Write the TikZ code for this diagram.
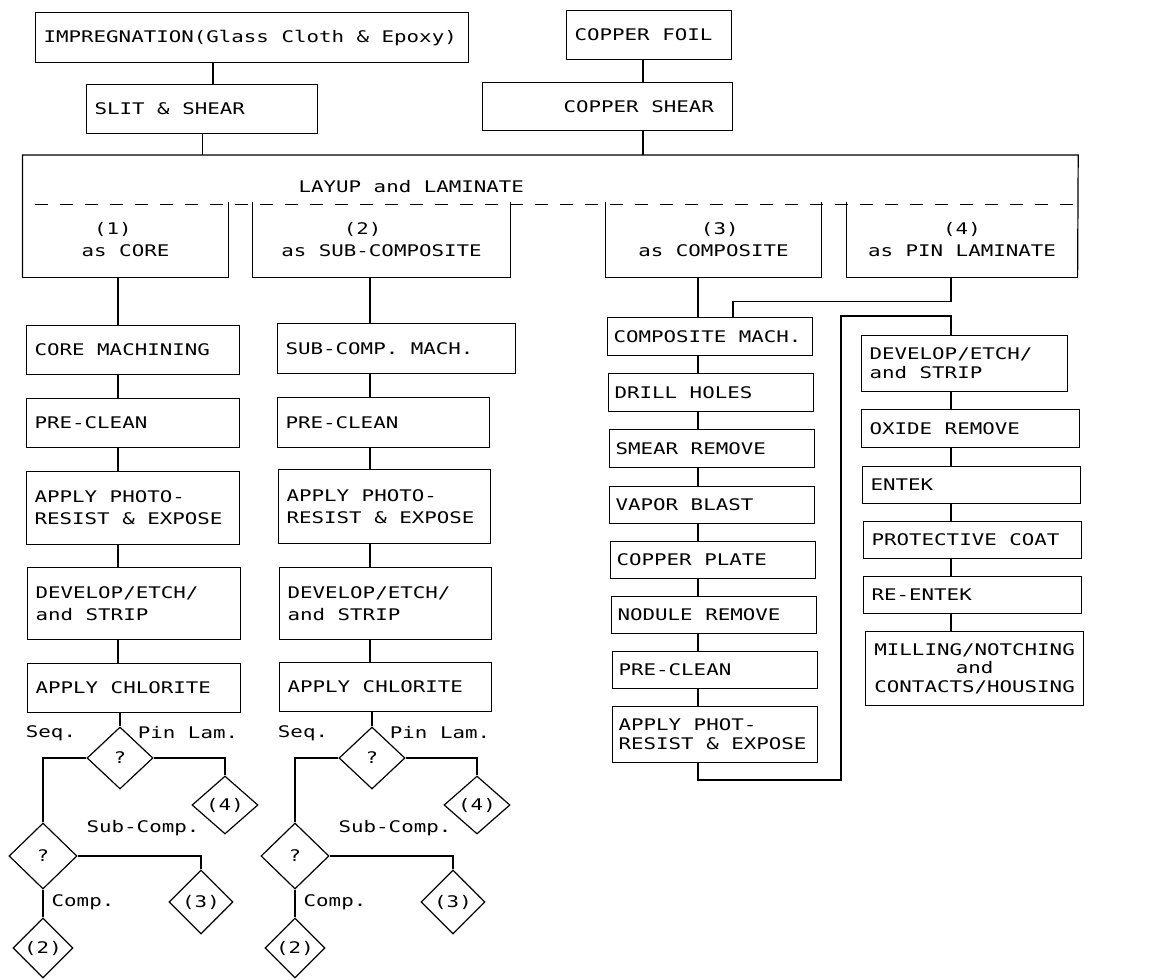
\documentclass[tikz,border=0pt]{standalone}
\usepackage{fontspec}
\newfontfamily\plotter[FakeStretch=1.3,WordSpace={1,0,0}]{DejaVu Sans Mono}
\usetikzlibrary{shapes.geometric}

\begin{document}
\begin{tikzpicture}[x=1pt,y=-1pt,line width=1.2pt,
    every node/.style={execute at begin node={\spaceskip=0pt\xspaceskip=0pt\frenchspacing}},
    blk/.style={draw,anchor=north west,align=left,inner xsep=8pt,inner ysep=0pt,
                font=\plotter\fontsize{16}{22}\selectfont},
    wblk/.style={blk,text width=197pt,minimum height=49pt},
    nblk/.style={blk,inner xsep=6pt,text width=193pt,minimum height=37pt,
                 font=\plotter\fontsize{16}{19}\selectfont},
    pblk/.style={blk,text width=202pt,minimum height=37pt,
                 font=\plotter\fontsize{16}{19}\selectfont},
    sub/.style={minimum height=74pt,align=left,inner sep=0pt,
                font=\plotter\fontsize{16}{22}\selectfont},
    dec/.style={diamond,draw,inner sep=0pt,minimum width=66pt,minimum height=62pt,
                font=\plotter\fontsize{16}{16}\selectfont},
    lbl/.style={inner sep=0pt,font=\plotter\fontsize{16}{16}\selectfont}]

    \useasboundingbox (0,0) rectangle (1165,980);

    % raw material
    \node[blk,text width=417pt,minimum height=50pt] (imp) at (35,12) {IMPREGNATION(Glass Cloth \& Epoxy)};
    \node[blk,text width=215pt,minimum height=49pt] (slit) at (86,84) {SLIT \& SHEAR};
    \node[blk,text width=149pt,minimum height=49pt] (foil) at (566,10) {COPPER FOIL};
    \node[blk,text width=234pt,minimum height=48pt] (cshear) at (482,82) {\hspace*{73pt}COPPER SHEAR};

    % layup and laminate
    \node[anchor=north west,minimum height=48pt,inner xsep=275pt,inner ysep=0pt,text width=504pt,
          align=left,font=\plotter\fontsize{16}{22}\selectfont] (layup) at (23,155)
      {\raisebox{-13pt}[0pt][0pt]{LAYUP and LAMINATE}};
    \node[sub,minimum width=205pt] (as1) at (125.5,240) {\hphantom{0}(1)\\as CORE};
    \node[sub,minimum width=257pt] (as2) at (381.5,240) {\hphantom{00000}(2)\\as SUB-COMPOSITE};
    \node[sub,minimum width=215pt] (as3) at (713.5,240) {\hphantom{00000}(3)\\as COMPOSITE};
    \node[sub,minimum width=230pt] (as4) at (962,240) {\hphantom{000000}(4)\\as PIN LAMINATE};

    % core
    \node[wblk] (core) at (26,325) {CORE MACHINING};
    \node[wblk] (pre1) at (26,398) {PRE-CLEAN};
    \node[wblk,minimum height=73pt] (phot1) at (26,471) {APPLY PHOTO-\\RESIST \& EXPOSE};
    \node[wblk,minimum height=72pt] (dev1) at (27,567) {DEVELOP/ETCH/\\and STRIP};
    \node[wblk] (chl1) at (27,663) {APPLY CHLORITE};

    % sub-composite
    \node[wblk,text width=222pt,minimum height=50pt] (subm) at (277,323) {SUB-COMP. MACH.};
    \node[wblk,text width=196pt,minimum height=50pt] (pre2) at (277,397) {PRE-CLEAN};
    \node[wblk,text width=196pt,minimum height=74pt] (phot2) at (278,469) {APPLY PHOTO-\\RESIST \& EXPOSE};
    \node[wblk,text width=196pt,minimum height=72pt] (dev2) at (279,567) {DEVELOP/ETCH/\\and STRIP};
    \node[wblk,text width=196pt] (chl2) at (279,662) {APPLY CHLORITE};

    % composite
    \node[nblk,minimum height=38pt] (cmach) at (607,317) {COMPOSITE MACH.};
    \node[nblk,minimum height=38pt] (drill) at (608,373) {DRILL HOLES};
    \node[nblk,minimum height=38pt] (smear) at (609,429) {SMEAR REMOVE};
    \node[nblk] (vapor) at (609,486) {VAPOR BLAST};
    \node[nblk] (cplate) at (610,541) {COPPER PLATE};
    \node[nblk] (nodule) at (611,596) {NODULE REMOVE};
    \node[nblk] (pre3) at (612,651) {PRE-CLEAN};
    \node[nblk,minimum height=56pt] (phot3) at (612,706) {APPLY PHOT-\\RESIST \& EXPOSE};

    % pin laminate
    \node[pblk,text width=190pt,minimum height=56pt] (dev4) at (861,335) {DEVELOP/ETCH/\\and STRIP};
    \node[pblk,minimum height=38pt] (oxide) at (861,409) {OXIDE REMOVE};
    \node[pblk] (entek) at (862,466) {ENTEK};
    \node[pblk] (prot) at (863,521) {PROTECTIVE COAT};
    \node[pblk] (reent) at (863,576) {RE-ENTEK};
    \node[pblk,align=center,minimum height=74pt,font=\plotter\fontsize{16}{18.5}\selectfont] (mill) at (865,631)
      {MILLING/NOTCHING\\and\\CONTACTS/HOUSING};

    \coordinate (xg)  at (213,0);
    \coordinate (xcu) at (643,0);
    \coordinate (x1)  at (118,0);
    \coordinate (x2)  at (370,0);
    \coordinate (x3)  at (698,0);
    \coordinate (x4)  at (951,0);
    \coordinate (xm)  at (733,0);
    \coordinate (lpb) at (841,780);
    \coordinate (lpt) at (841,316);

    % frame of layup block
    \draw (as1.south west) |- (layup.north east) -- (as4.south east);
    \draw[dash pattern=on 13pt off 12pt,dash phase=13pt] (layup.south west) -- (layup.south east);
    \draw (as1.north east) |- (as1.south west);
    \foreach \k in {2,3} { \draw (as\k.north west) |- (as\k.south east) -- (as\k.north east); }
    \draw (as4.north west) |- (as4.south east);

    \draw (imp.south -| xg) -- (slit.north -| xg);
    \draw (slit.south) -- (slit.south |- layup.north);
    \draw (foil.south -| xcu) -- (cshear.north -| xcu);
    \draw (cshear.south -| xcu) -- (layup.north -| xcu);

    \foreach \a/\b in {as1/core,core/pre1,pre1/phot1,phot1/dev1,dev1/chl1}
      { \draw (\a.south -| x1) -- (\b.north -| x1); }
    \foreach \a/\b in {as2/subm,subm/pre2,pre2/phot2,phot2/dev2,dev2/chl2}
      { \draw (\a.south -| x2) -- (\b.north -| x2); }
    \foreach \a/\b in {as3/cmach,cmach/drill,drill/smear,smear/vapor,vapor/cplate,cplate/nodule,nodule/pre3,pre3/phot3}
      { \draw (\a.south -| x3) -- (\b.north -| x3); }
    \foreach \a/\b in {dev4/oxide,oxide/entek,entek/prot,prot/reent,reent/mill}
      { \draw (\a.south -| x4) -- (\b.north -| x4); }
    \draw (as4.south -| x4) -- ++(0,24) -| (cmach.north -| xm);
    \draw (phot3.south -| x3) |- (lpb) -- (lpt) -| (dev4.north -| x4);

    % decisions below chlorite
    \foreach \c/\dx in {1/0,2/252} {
      \node[dec] (qa\c) at ({120+\dx},758) {?};
      \node[dec,minimum width=68pt,minimum height=66pt] (qb\c) at ({43+\dx},856) {?};
      \node[dec,minimum height=58pt] (to4\c) at ({225+\dx},805) {(4)};
      \node[dec,minimum width=64pt,minimum height=64pt] (to3\c) at ({201+\dx},902) {(3)};
      \node[dec,minimum width=60pt,minimum height=60pt] (to2\c) at ({43+\dx},948) {(2)};
      \node[lbl] (seq\c) at ({51+\dx},733) {Seq.};
      \node[lbl] (pin\c) at ({188+\dx},733) {Pin Lam.};
      \node[lbl] (subc\c) at ({143+\dx},828) {Sub-Comp.};
      \node[lbl] (comp\c) at ({83+\dx},902) {Comp.};
      \draw (chl\c.south -| qa\c.north) -- (qa\c.north);
      \draw (qa\c.west) -| (qb\c.north);
      \draw (qa\c.east) -| (to4\c.north);
      \draw (qb\c.east) -| (to3\c.north);
      \draw (qb\c.south) -- (to2\c.north);
    }
\end{tikzpicture}
\end{document}
